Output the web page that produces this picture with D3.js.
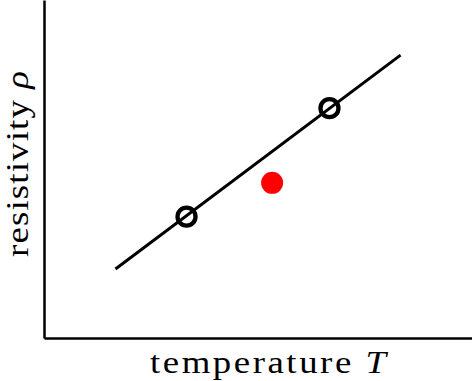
<!DOCTYPE html>
<html>
<head>
<meta charset="utf-8">
<script src="https://cdn.jsdelivr.net/npm/d3@7"></script>
<style>
  body { margin: 0; background: #fff; }
  text { font-family: "Liberation Serif", "DejaVu Serif", serif; }
</style>
</head>
<body>
<div id="chart"></div>
<script>
// fit line endpoints (temperature, resistivity)
const lineT = [1.67, 8.33];
const lineRho = [2.04, 8.37];
// measured points on the line (open circles)
const measT = [3.33, 6.67];
const measRho = [3.59, 6.8];
// outlier point (red)
const oddT = [5.33];
const oddRho = [4.59];

const xLabel = "temperature ";
const xSym = "T";
const yLabel = "resistivity ";
const ySym = "ρ";

function draw() {
  const W = 472, H = 381;
  const margin = { top: 0, right: 0, bottom: 43, left: 44 };
  const stretch = 1.15; // widen glyphs a bit, like the TeX font

  const svg = d3
    .select("#chart")
    .append("svg")
    .attr("width", W)
    .attr("height", H);

  const x = d3.scaleLinear([0, 10], [margin.left, W - margin.right]);
  const y = d3.scaleLinear([0, 10], [H - margin.bottom, margin.top]);

  // axes, no ticks
  svg.append("g")
    .attr("transform", `translate(0,${H - margin.bottom})`)
    .call(d3.axisBottom(x).tickValues([]).tickSizeOuter(0))
    .select(".domain")
    .attr("stroke", "#000")
    .attr("stroke-width", 2.5);
  svg.append("g")
    .attr("transform", `translate(${margin.left},0)`)
    .call(d3.axisLeft(y).tickValues([]).tickSizeOuter(0))
    .select(".domain")
    .attr("stroke", "#000")
    .attr("stroke-width", 2.5);

  const line = d3.line().x((d) => x(d[0])).y((d) => y(d[1]));
  svg.append("path")
    .datum(d3.zip(lineT, lineRho))
    .attr("d", line)
    .attr("fill", "none")
    .attr("stroke", "#000")
    .attr("stroke-width", 3);

  svg.selectAll("circle.meas")
    .data(d3.zip(measT, measRho))
    .enter()
    .append("circle")
    .attr("class", "meas")
    .attr("cx", (d) => x(d[0]))
    .attr("cy", (d) => y(d[1]))
    .attr("r", 9)
    .attr("fill", "none")
    .attr("stroke", "#000")
    .attr("stroke-width", 4.3);

  svg.selectAll("circle.odd")
    .data(d3.zip(oddT, oddRho))
    .enter()
    .append("circle")
    .attr("class", "odd")
    .attr("cx", (d) => x(d[0]))
    .attr("cy", (d) => y(d[1]))
    .attr("r", 11)
    .attr("fill", "#ff0000");

  const xt = svg.append("text")
    .attr("transform", `translate(268,373) scale(${stretch},1)`)
    .attr("text-anchor", "middle")
    .attr("font-size", 32)
    .attr("textLength", 236 / stretch)
    .attr("lengthAdjust", "spacing")
    .attr("fill", "#000");
  xt.append("tspan").text(xLabel);
  xt.append("tspan").attr("font-style", "italic").text(xSym);

  const yt = svg.append("text")
    .attr("transform", `translate(28,164) rotate(-90) scale(${stretch},1)`)
    .attr("text-anchor", "middle")
    .attr("font-size", 32)
    .attr("textLength", 186 / stretch)
    .attr("lengthAdjust", "spacing")
    .attr("fill", "#000");
  yt.append("tspan").text(yLabel);
  yt.append("tspan").attr("font-style", "italic").text(ySym);
}

draw();
</script>
</body>
</html>
